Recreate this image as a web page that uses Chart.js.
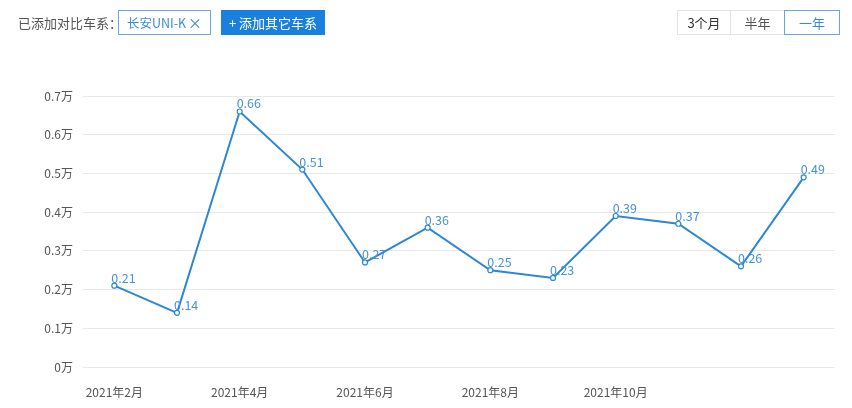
<!DOCTYPE html>
<html><head><meta charset="utf-8">
<script src="https://cdn.jsdelivr.net/npm/chart.js@4/dist/chart.umd.min.js"></script>
<style>
html,body{margin:0;padding:0;background:#fff;width:852px;height:408px;overflow:hidden;font-family:"Noto Sans CJK SC","Noto Sans",sans-serif;}
#wrap{position:relative;width:852px;height:408px;}
canvas{position:absolute;left:0;top:0;}
.lbl{position:absolute;left:18px;top:12px;font-size:13px;color:#555;line-height:22px;}
.tag{position:absolute;left:118px;top:10px;width:93px;height:25px;border:1px solid #6aa8dc;box-sizing:border-box;color:#3a8bd6;font-size:12.5px;line-height:23px;padding-left:8px;}
.tag span{position:absolute;right:8px;top:0;font-size:14px;}
.btn{position:absolute;left:221px;top:10px;width:104px;height:25px;background:#1a80de;color:#fff;font-size:13px;line-height:25px;text-align:center;}
.seg{position:absolute;top:10px;height:25px;box-sizing:border-box;border:1px solid #e4e4e4;font-size:13px;line-height:23px;text-align:center;color:#333;}
</style></head>
<body><div id="wrap">
<canvas id="c" width="852" height="408"></canvas>
<div class="lbl">已添加对比车系：</div>
<div class="tag">长安UNI-K<span>×</span></div>
<div class="btn">+ 添加其它车系</div>
<div class="seg" style="left:677px;width:54px;">3个月</div>
<div class="seg" style="left:730px;width:55px;color:#555;">半年</div>
<div class="seg" style="left:784px;width:56px;border-color:#6aa8dc;color:#3a8bd6;">一年</div>
</div>
<script>
const categories = ['2021年2月','2021年3月','2021年4月','2021年5月','2021年6月','2021年7月','2021年8月','2021年9月','2021年10月','2021年11月','2021年12月','2022年1月'];
const shownLabels = ['2021年2月','2021年4月','2021年6月','2021年8月','2021年10月'];
const salesWan = [0.21,0.14,0.66,0.51,0.27,0.36,0.25,0.23,0.39,0.37,0.26,0.49];
const yTicks = [0,0.1,0.2,0.3,0.4,0.5,0.6,0.7];

const labelPlugin = {
  id:'vals',
  afterDatasetsDraw(chart){
    const ctx = chart.ctx;
    const meta = chart.getDatasetMeta(0);
    ctx.save();
    ctx.font = '12.5px "Noto Sans CJK SC","Noto Sans",sans-serif';
    ctx.fillStyle = '#4592d8';
    ctx.textAlign = 'left';
    ctx.textBaseline = 'alphabetic';
    meta.data.forEach((p,i)=>{
      ctx.fillText(salesWan[i].toFixed(2), p.x-3, p.y-3);
    });
    ctx.restore();
  }
};

new Chart(document.getElementById('c'),{
  type:'line',
  data:{labels:categories,datasets:[{
    data:salesWan,
    borderColor:'#2e87d3',
    borderWidth:2,
    tension:0,
    pointRadius:2.5,
    pointBackgroundColor:'#fff',
    pointBorderColor:'#2e87d3',
    pointBorderWidth:1.2
  }]},
  options:{
    responsive:false,
    animation:false,
    layout:{padding:{top:96,right:17,left:0,bottom:0}},
    plugins:{legend:{display:false},tooltip:{enabled:false}},
    scales:{
      x:{
        offset:true,
        grid:{display:false},
        border:{display:false},
        afterFit(s){s.height=41;},
        ticks:{
          autoSkip:false,maxRotation:0,padding:10,
          color:'#555',
          font:{size:12,family:'"Noto Sans CJK SC","Noto Sans",sans-serif'},
          callback(v,i){const l=categories[i];return shownLabels.includes(l)?l:'';}
        }
      },
      y:{
        min:0,max:0.7,
        afterFit(s){s.width=83;},
        afterBuildTicks(s){s.ticks=yTicks.map(v=>({value:v}));},
        grid:{color:'#e9e9e9',drawTicks:false},
        border:{display:false},
        ticks:{
          padding:10,color:'#555',
          font:{size:12,family:'"Noto Sans CJK SC","Noto Sans",sans-serif'},
          callback(v){return (v===0?'0':v.toFixed(1))+'万';}
        }
      }
    }
  },
  plugins:[labelPlugin]
});
</script>
</body></html>
